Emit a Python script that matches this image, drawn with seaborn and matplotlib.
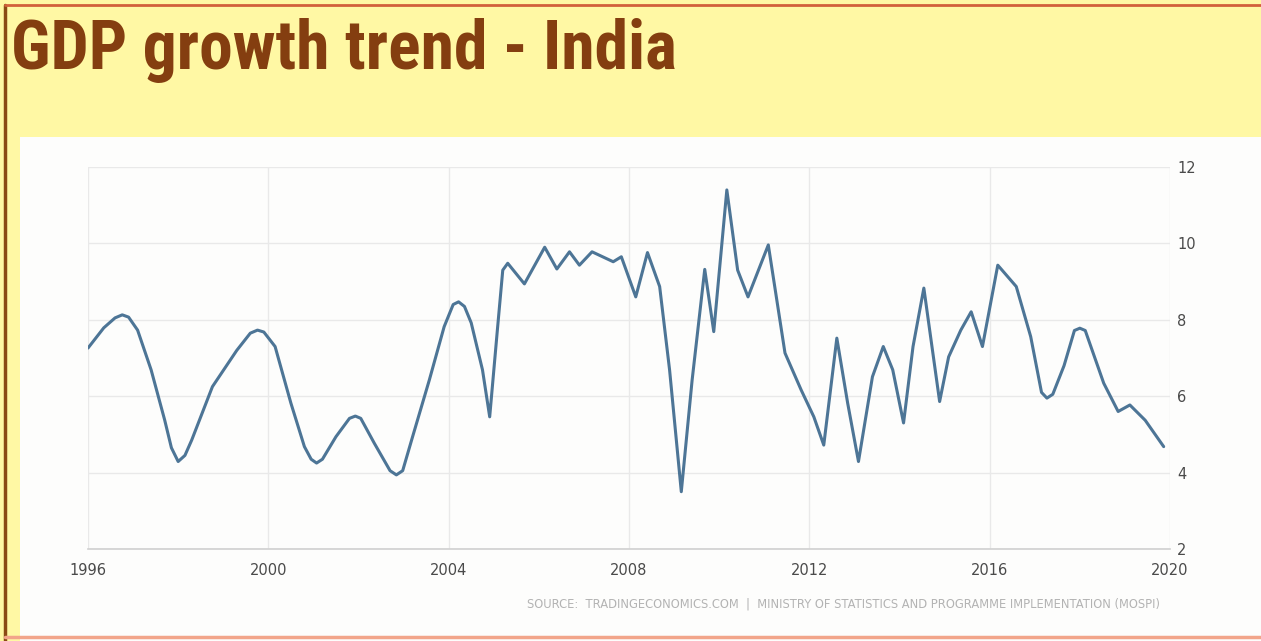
import matplotlib
matplotlib.use("Agg")
import matplotlib.pyplot as plt
import seaborn as sns
import pandas as pd
from matplotlib import font_manager
from matplotlib.patches import Rectangle
from matplotlib.lines import Line2D

# ---- data ----
years = [1996.0, 1996.35, 1996.6, 1996.76, 1996.9, 1997.1, 1997.4, 1997.7, 1997.85,
         1998.0, 1998.15, 1998.3, 1998.76, 1999.3, 1999.6, 1999.76, 1999.9, 2000.15,
         2000.5, 2000.8, 2000.95, 2001.07, 2001.2, 2001.5, 2001.8, 2001.93, 2002.05,
         2002.35, 2002.7, 2002.84, 2002.98, 2003.2, 2003.57, 2003.9, 2004.1, 2004.22,
         2004.35, 2004.5, 2004.75, 2004.91, 2005.08, 2005.2, 2005.31, 2005.68, 2006.13,
         2006.4, 2006.68, 2006.9, 2007.18, 2007.65, 2007.83, 2008.15, 2008.41, 2008.68,
         2008.9, 2009.16, 2009.4, 2009.68, 2009.88, 2010.17, 2010.41, 2010.64, 2011.09,
         2011.46, 2011.82, 2012.1, 2012.32, 2012.61, 2012.85, 2013.09, 2013.4, 2013.64,
         2013.85, 2014.09, 2014.3, 2014.54, 2014.72, 2014.89, 2015.09, 2015.36, 2015.59,
         2015.84, 2016.18, 2016.59, 2016.91, 2017.15, 2017.27, 2017.4, 2017.65, 2017.88,
         2018.0, 2018.12, 2018.53, 2018.85, 2019.11, 2019.45, 2019.86]
gdp_growth = [7.26, 7.79, 8.05, 8.13, 8.07, 7.73, 6.69, 5.38, 4.65,
              4.29, 4.45, 4.85, 6.25, 7.2, 7.65, 7.73, 7.68, 7.3,
              5.82, 4.68, 4.35, 4.25, 4.35, 4.94, 5.42, 5.48, 5.42,
              4.77, 4.05, 3.94, 4.05, 4.94, 6.42, 7.82, 8.4, 8.47,
              8.35, 7.92, 6.69, 5.46, 7.73, 9.3, 9.48, 8.94, 9.9,
              9.33, 9.78, 9.43, 9.78, 9.52, 9.65, 8.6, 9.76, 8.87,
              6.69, 3.5, 6.42, 9.32, 7.69, 11.4, 9.3, 8.6, 9.96,
              7.13, 6.16, 5.46, 4.72, 7.52, 5.82, 4.29, 6.51, 7.3,
              6.69, 5.3, 7.3, 8.83, 7.3, 5.86, 7.03, 7.73, 8.21,
              7.3, 9.43, 8.87, 7.56, 6.1, 5.95, 6.05, 6.8, 7.72,
              7.78, 7.72, 6.34, 5.6, 5.77, 5.37, 4.68]
x_ticks = [1996, 2000, 2004, 2008, 2012, 2016, 2020]
y_ticks = [2, 4, 6, 8, 10, 12]
title = "GDP growth trend - India"
source = "SOURCE:  TRADINGECONOMICS.COM  |  MINISTRY OF STATISTICS AND PROGRAMME IMPLEMENTATION (MOSPI)"

df = pd.DataFrame({"year": years, "growth": gdp_growth})

sns.set_theme(style="white")
names = {f.name for f in font_manager.fontManager.ttflist}
title_font = next((n for n in ["Roboto Condensed", "Barlow Condensed", "Oswald",
                               "Archivo Narrow", "Asap Condensed"] if n in names),
                  "DejaVu Sans")

W, H = 1261, 641
fig = plt.figure(figsize=(W / 100, H / 100), dpi=100)
fig.patch.set_facecolor("#fff8a4")

# white panel and borders
fig.add_artist(Rectangle((20 / W, 0), 1 - 20 / W, (H - 137) / H,
                         transform=fig.transFigure, facecolor="#fdfdfc",
                         edgecolor="none", zorder=0))
fig.add_artist(Line2D([5 / W, 5 / W], [0, 1 - 5 / H], color="#8a4a14", lw=2.5))
fig.add_artist(Line2D([5 / W, 1], [1 - 5 / H, 1 - 5 / H], color="#d2603a", lw=2))
fig.add_artist(Line2D([5 / W, 1], [4 / H, 4 / H], color="#f2a58a", lw=2.5))

ax = fig.add_axes([88 / W, (H - 549) / H, 1082 / W, 382 / H])
ax.set_facecolor("none")
sns.lineplot(data=df, x="year", y="growth", ax=ax, color="#4d7596", lw=2.2)
ax.lines[0].set_solid_joinstyle("round")
ax.lines[0].set_solid_capstyle("round")

ax.set_xlim(1996, 2020)
ax.set_ylim(2, 12)
ax.set_xticks(x_ticks)
ax.set_yticks(y_ticks)
ax.set_xticklabels([str(t) for t in x_ticks])
ax.yaxis.tick_right()
ax.grid(True, color="#e9e9e9", lw=1)
for s in ["top", "left", "right"]:
    ax.spines[s].set_visible(False)
ax.spines["bottom"].set_color("#d0d0d0")
ax.spines["bottom"].set_linewidth(1.2)
ax.tick_params(axis="x", length=0, pad=10, labelsize=10.5, labelcolor="#4a4a4a")
ax.tick_params(axis="y", length=0, pad=5, labelsize=10.5, labelcolor="#4a4a4a")
ax.set_xlabel("")
ax.set_ylabel("")

fig.text(1160 / W, 1 - 604 / H, source, ha="right", va="center",
         fontsize=8.3, color="#b3b3b3", family="DejaVu Sans")

t = fig.text(11 / W, 1 - 69 / H, title, ha="left", va="baseline", fontsize=60,
             fontweight="bold", color="#843e10", family=title_font)
fig.canvas.draw()
bb = t.get_window_extent()
t.set_fontsize(60 * 666 / bb.width)

fig.savefig("out.png", dpi=100, facecolor=fig.get_facecolor())
